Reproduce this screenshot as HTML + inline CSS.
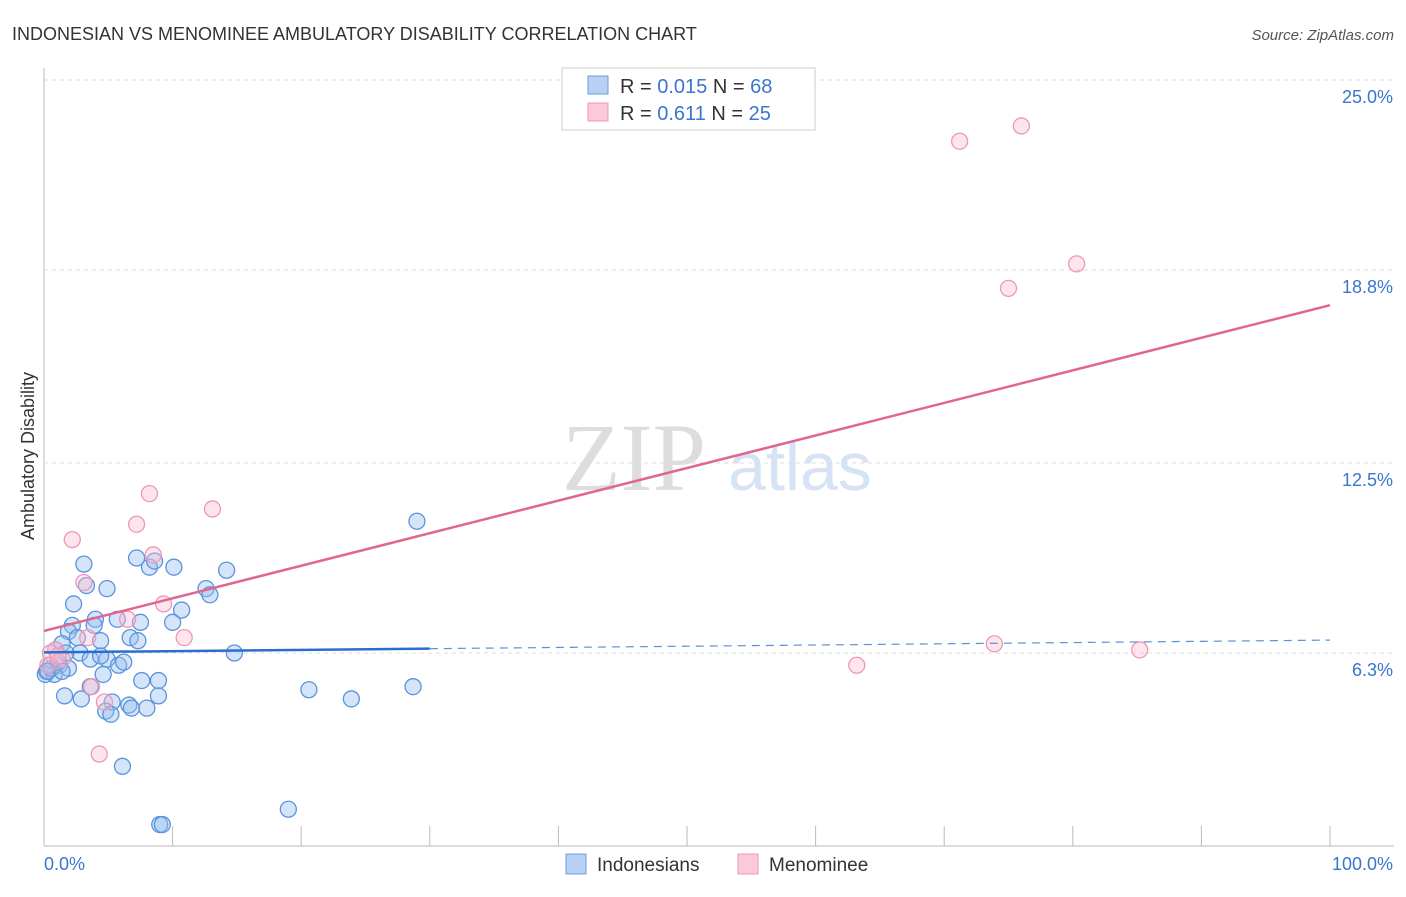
<!DOCTYPE html>
<html><head><meta charset="utf-8"><style>
body{margin:0;background:#fff;font-family:"Liberation Sans",sans-serif}
</style></head><body>
<svg id="c" width="1406" height="892" xmlns="http://www.w3.org/2000/svg" font-family="Liberation Sans, sans-serif">
<text x="12" y="40" font-size="18" fill="#333">INDONESIAN VS MENOMINEE AMBULATORY DISABILITY CORRELATION CHART</text>
<text x="1394" y="40" font-size="15" fill="#555" text-anchor="end" font-style="italic">Source: ZipAtlas.com</text>
<text x="634" y="490" font-size="96" fill="#ddd" font-family="Liberation Serif, serif" text-anchor="middle">ZIP</text>
<text x="800" y="490" font-size="68" fill="#d6e3f5" text-anchor="middle">atlas</text>
<text x="34" y="456" font-size="18" fill="#333" text-anchor="middle" transform="rotate(-90 34 456)">Ambulatory Disability</text>
<g id="grid"></g><g id="marks"></g>
<g>
<rect x="562" y="68" width="253" height="62" fill="#fff" stroke="#ccc"/>
<rect x="588" y="76" width="20" height="18" fill="#b7d1f3" stroke="#6a9de0"/>
<rect x="588" y="103" width="20" height="18" fill="#fbcad8" stroke="#ee99b4"/>
<text x="620" y="93" font-size="20" fill="#333">R = <tspan fill="#3a75d0">0.015</tspan>   N = <tspan fill="#3a75d0">68</tspan></text>
<text x="620" y="120" font-size="20" fill="#333">R =  <tspan fill="#3a75d0">0.611</tspan>   N = <tspan fill="#3a75d0">25</tspan></text>
</g>
<g>
<rect x="566" y="854" width="20" height="20" fill="#b7d1f3" stroke="#6a9de0"/>
<text x="597" y="871" font-size="19" fill="#333">Indonesians</text>
<rect x="738" y="854" width="20" height="20" fill="#fbcad8" stroke="#ee99b4"/>
<text x="769" y="871" font-size="19" fill="#333">Menominee</text>
</g>
</svg>
<script>
const yTicks=[6.3,12.5,18.8,25.0];
const yTickLabels=["6.3%","12.5%","18.8%","25.0%"];
const blueX=[3.1,7.2,8.2,10.1,14.2,8.6,3.3,4.9,12.6,12.9,2.3,4.0,5.7,7.5,10.7,10.0,2.2,3.9,1.9,2.6,6.7,7.3,4.4,1.4,0.9,2.8,3.6,4.9,1.2,0.5,0.2,0.8,1.9,5.8,6.2,4.6,7.6,8.9,3.6,1.6,2.9,5.3,6.6,8.9,4.8,6.8,8.0,5.2,14.8,20.6,23.9,28.7,29.0,6.1,19.0,9.0,9.2,0.1,0.6,1.1,1.7,4.4,0.3,1.4];
const blueY=[9.2,9.4,9.1,9.1,9.0,9.3,8.5,8.4,8.4,8.2,7.9,7.4,7.4,7.3,7.7,7.3,7.2,7.2,7.0,6.8,6.8,6.7,6.7,6.6,6.4,6.3,6.1,6.1,5.9,5.9,5.7,5.6,5.8,5.9,6.0,5.6,5.4,5.4,5.2,4.9,4.8,4.7,4.6,4.9,4.4,4.5,4.5,4.3,6.3,5.1,4.8,5.2,10.6,2.6,1.2,0.7,0.7,5.6,5.8,6.0,6.3,6.2,5.7,5.7];
const pinkX=[2.2,8.2,7.2,13.1,8.5,3.1,9.3,6.5,10.9,3.4,0.9,0.5,1.4,3.7,4.7,4.3,63.2,73.9,85.2,71.2,76.0,75.0,80.3,0.3,1.1];
const pinkY=[10.0,11.5,10.5,11.0,9.5,8.6,7.9,7.4,6.8,6.8,6.4,6.3,6.1,5.2,4.7,3.0,5.9,6.6,6.4,23.0,23.5,18.2,19.0,5.9,6.2];
const blueTrend=[0.015,6.32,6.72];   // slope marker, y at 0%, y at 100%
const pinkTrend=[0.611,7.02,17.65];
const X=v=>44+v*12.86, Y=v=>80+(25-v)*30.64;
const NS="http://www.w3.org/2000/svg";
const grid=document.getElementById('grid'), marks=document.getElementById('marks');
function mk(tag,at,parent){const e=document.createElementNS(NS,tag);for(const k in at)e.setAttribute(k,at[k]);parent.appendChild(e);return e;}
let l=mk('line',{x1:44,y1:68,x2:44,y2:846,stroke:'#bbb'},grid);


l=mk('line',{x1:44,y1:846,x2:1394,y2:846,stroke:'#bbb'},grid);


yTicks.forEach((t,i)=>{
 const y=Y(t);
 const g=mk('line',{x1:44,y1:y,x2:1394,y2:y,stroke:'#ddd','stroke-dasharray':'4,4'},grid);
 
 
 const tx=mk('text',{x:1393,y:y+23,'font-size':18,fill:'#3a75d0','text-anchor':'end'},grid);
 tx.textContent=yTickLabels[i];
 
 
});
for(let i=0;i<=10;i++){
 const x=X(i*10);
 const t=mk('line',{x1:x,y1:826,x2:x,y2:846,stroke:'#bbb'},grid);
 
 
}
const xl=mk('text',{x:44,y:870,'font-size':18,fill:'#3a75d0'},grid);xl.textContent='0.0%';


const xr=mk('text',{x:1393,y:870,'font-size':18,fill:'#3a75d0','text-anchor':'end'},grid);xr.textContent='100.0%';


blueX.forEach((v,i)=>{
 const c=mk('circle',{cx:X(v),cy:Y(blueY[i]),r:8,fill:'rgba(150,190,240,0.4)',stroke:'#5b93dc','stroke-width':1.3},marks);
 
 
});
pinkX.forEach((v,i)=>{
 const c=mk('circle',{cx:X(v),cy:Y(pinkY[i]),r:8,fill:'rgba(250,190,210,0.4)',stroke:'#ee99b4','stroke-width':1.3},marks);
 
 
});
const by=x=>blueTrend[1]+(blueTrend[2]-blueTrend[1])*x/100;
l=mk('line',{x1:X(0),y1:Y(by(0)),x2:X(30),y2:Y(by(30)),stroke:'#2a6dd0','stroke-width':2.5},marks);


l=mk('line',{x1:X(30),y1:Y(by(30)),x2:X(100),y2:Y(by(100)),stroke:'#5b8fd8','stroke-width':1.2,'stroke-dasharray':'8,6'},marks);


l=mk('line',{x1:X(0),y1:Y(pinkTrend[1]),x2:X(100),y2:Y(pinkTrend[2]),stroke:'#e0668f','stroke-width':2.5},marks);


</script>
</body></html>
